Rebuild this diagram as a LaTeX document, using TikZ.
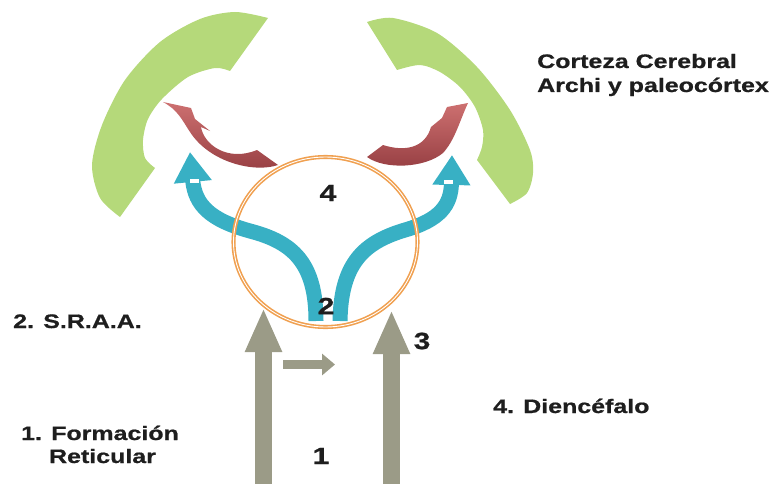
\documentclass[tikz,border=0pt]{standalone}
\usepackage{fontspec}
\setmainfont{Liberation Sans}[FakeStretch=1.28, FakeBold=0.8]
\usepackage{color}
\usetikzlibrary{arrows.meta}

\definecolor{cortexgreen}{RGB}{181,217,122}
\definecolor{ribbonred}{RGB}{150,62,66}
\definecolor{ribbonlight}{RGB}{205,112,112}
\definecolor{tealarrow}{RGB}{56,176,196}
\definecolor{grayarrow}{RGB}{155,155,135}
\definecolor{ringorange}{RGB}{240,160,80}
\definecolor{textgray}{RGB}{30,30,30}

\tikzset{
  lbl/.style={font=\bfseries\fontsize{19.5}{24}\selectfont, text=textgray, inner sep=0pt},
  num/.style={font=\bfseries\fontsize{23.5}{28}\selectfont, text=textgray},
  ribbon/.style={top color=ribbonlight, bottom color=ribbonred, draw=none},
  fat gray/.style={grayarrow, line width=17pt, arrows={-{Triangle[length=44pt, width=34pt]}}},
  fat teal/.style={tealarrow, line width=15pt, arrows={-{Triangle[length=30pt, width=36pt]}}},
}

\begin{document}
\begin{tikzpicture}[x=1pt, y=-1pt]
\useasboundingbox (0, 0) rectangle (773, 484);

% corteza
\fill [cortexgreen] plot [smooth] coordinates {(268, 18) (235, 12) (200, 19) (160, 42) (125, 80) (102, 125) (92, 165) (100, 198) (120, 217)}
  -- plot [smooth] coordinates {(155, 168) (145, 158) (143, 140) (148, 119) (162, 99) (188, 77) (215, 68) (230, 71)} -- cycle;
\fill [cortexgreen] plot [smooth] coordinates {(367, 22) (393, 18) (437, 33) (477, 67) (510, 110) (530, 150) (533, 173) (527, 193) (510, 204)}
  -- plot [smooth] coordinates {(477, 160) (482, 147) (483, 130) (475, 107) (460, 87) (440, 72) (420, 65) (397, 70)} -- cycle;

% red ribbons
\shade [ribbon] (163, 102) -- (191, 108) -- (195, 119) -- (210, 131) -- (201, 127)
  .. controls (204, 145) and (228, 162) .. (257, 150) -- (278, 165)
  .. controls (255, 173) and (210, 163) .. (190, 132) .. controls (182, 120) and (178, 110) .. cycle;
\shade [ribbon] (468, 103) -- (447, 107) -- (442, 118) -- (431, 127)
  .. controls (425, 148) and (405, 152) .. (383, 145) -- (367, 157)
  .. controls (385, 170) and (425, 168) .. (443, 153) .. controls (455, 140) and (460, 120) .. cycle;

% teal arrows
\coordinate (t1) at (316, 321);
\coordinate (t1tip) at (190, 152);
\coordinate (t2) at (340, 321);
\coordinate (t2tip) at (452, 155);
\draw [fat teal] (t1) .. controls (316, 262) and (292, 242) .. (250, 231) .. controls (210, 220) and (195, 205) .. (t1tip);
\draw [fat teal] (t2) .. controls (341, 262) and (365, 242) .. (405, 230) .. controls (440, 220) and (451, 205) .. (t2tip);
\fill [white] (190, 179) rectangle (199, 183);
\fill [white] (444, 180) rectangle (453, 184);

% ring
\draw [ringorange, double=white, double distance=0.9pt, line width=1.6pt] (325.5, 242) ellipse [x radius=92, y radius=85];

% gray arrows
\coordinate (g1) at (263.5, 484);
\coordinate (g1tip) at (263.5, 308);
\coordinate (g2) at (391.5, 484);
\coordinate (g2tip) at (391.5, 310);
\coordinate (g3) at (283, 364.5);
\coordinate (g3tip) at (335, 364.5);
\draw [fat gray] (g1) -- (g1tip);
\draw [fat gray] (g2) -- (g2tip);
\draw [grayarrow, line width=9pt, arrows={-{Triangle[length=13pt, width=21pt]}}] (g3) -- (g3tip);

% numbers
\node (n1) [num] at (321, 456) {1};
\node (n2) [num] at (326, 306) {2};
\node (n3) [num] at (422, 341) {3};
\node (n4) [num] at (328, 193) {4};

% labels
\node (corteza) [lbl, anchor=base west] at (537, 68) {Corteza Cerebral};
\node (archi) [lbl, anchor=base west] at (537, 92) {Archi y paleocórtex};
\node (sraa) [lbl, anchor=base west] at (13, 328) {2. S.R.A.A.};
\node (formacion) [lbl, anchor=base] at (100, 440) {1. Formación};
\node (reticular) [lbl, anchor=base] at (102.5, 463) {Reticular};
\node (diencefalo) [lbl, anchor=base west] at (493, 413) {4. Diencéfalo};
\end{tikzpicture}
\end{document}
